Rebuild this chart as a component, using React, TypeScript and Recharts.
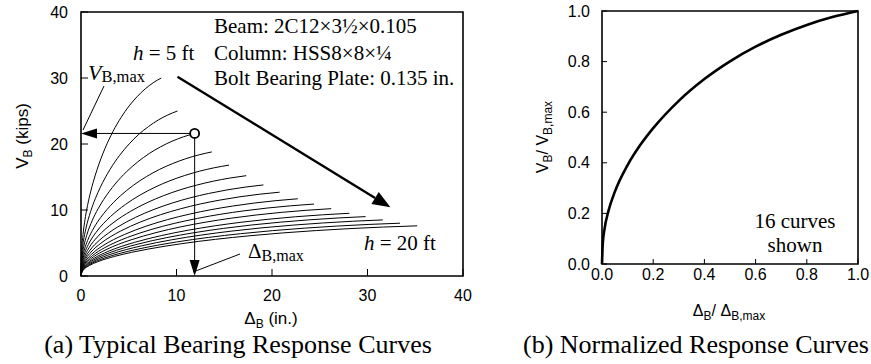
import React from 'react';
import {
  LineChart,
  Line,
  XAxis,
  YAxis,
  ReferenceArea,
  ReferenceLine,
  ReferenceDot,
} from 'recharts';

// bearing response curves, one per column height h = 5 ft ... 20 ft
const heightsFt = [5, 6, 7, 8, 9, 10, 11, 12, 13, 14, 15, 16, 17, 18, 19, 20];
const peakDelta = [8.4, 10.1, 11.9, 13.7, 15.5, 17.3, 19.1, 20.8, 22.7, 24.4, 26.2, 28.1, 29.8, 31.6, 33.4, 35.2];
const peakV = [30.0, 25.0, 21.6, 18.8, 16.8, 15.2, 13.8, 12.7, 11.7, 10.9, 10.2, 9.5, 9.0, 8.5, 8.0, 7.6];

// normalized response (all 16 curves collapse onto this one)
const normDelta = [0, 0.003, 0.01, 0.025, 0.05, 0.1, 0.15, 0.2, 0.3, 0.4, 0.5, 0.6, 0.7, 0.8, 0.9, 1.0];
const normV = [0, 0.08, 0.139, 0.209, 0.285, 0.391, 0.471, 0.537, 0.645, 0.731, 0.801, 0.859, 0.906, 0.945, 0.976, 1.0];

const ticksA = [0, 10, 20, 30, 40];
const ticksB = [0, 0.2, 0.4, 0.6, 0.8, 1.0];

// trend arrow (h = 5 ft -> h = 20 ft)
const trendFrom = { x: 10.1, y: 30.2 };
const trendTo = { x: 32.4, y: 10.4 };

const serif = '"Liberation Serif", "Times New Roman", serif';
const sans = '"Liberation Sans", Arial, sans-serif';

const normalized = normDelta.map((t, i) => ({ x: t, y: normV[i] }));
const curves = heightsFt.map((h, k) => ({
  h,
  points: normDelta.map((t, i) => ({ x: t * peakDelta[k], y: normV[i] * peakV[k] })),
}));

function Arrow(props: any) {
  const { x1, y1, x2, y2, len = 16, half = 5, width = 1 } = props;
  const a = Math.atan2(y2 - y1, x2 - x1);
  const bx = x2 - len * Math.cos(a);
  const by = y2 - len * Math.sin(a);
  const px = -Math.sin(a) * half;
  const py = Math.cos(a) * half;
  return (
    <g>
      <line x1={x1} y1={y1} x2={bx} y2={by} stroke="#000" strokeWidth={width} />
      <polygon points={`${x2},${y2} ${bx + px},${by + py} ${bx - px},${by - py}`} fill="#000" />
    </g>
  );
}

// ticks drawn inward from the frame, labels outside
function XTick(props: any) {
  const { x, y, payload, gap, len, fmt } = props;
  const axisY = y - gap;
  return (
    <g>
      <line x1={x} y1={axisY} x2={x} y2={axisY - len} stroke="#000" strokeWidth={1} />
      <text x={x} y={y} dy="0.71em" textAnchor="middle" fontSize={16} fontFamily={sans} fill="#000">
        {fmt(payload.value)}
      </text>
    </g>
  );
}

function YTick(props: any) {
  const { x, y, payload, gap, len, fmt } = props;
  const axisX = x + gap;
  return (
    <g>
      <line x1={axisX} y1={y} x2={axisX + len} y2={y} stroke="#000" strokeWidth={1} />
      <text x={x} y={y} dy="0.355em" textAnchor="end" fontSize={16} fontFamily={sans} fill="#000">
        {fmt(payload.value)}
      </text>
    </g>
  );
}

const intFmt = (v: number) => String(v);
const decFmt = (v: number) => v.toFixed(1);

function PanelA() {
  const pk = { x: peakDelta[2], y: peakV[2] };
  return (
    <LineChart width={480} height={364} margin={{ top: 12, right: 17, left: 21, bottom: 58 }}>
      <XAxis
        type="number"
        dataKey="x"
        domain={[0, 40]}
        ticks={ticksA}
        axisLine={false}
        tickLine={false}
        tickSize={0}
        tickMargin={14}
        tick={<XTick gap={14} len={7} fmt={intFmt} />}
        height={30}
      />
      <YAxis
        type="number"
        dataKey="y"
        domain={[0, 40]}
        ticks={ticksA}
        axisLine={false}
        tickLine={false}
        tickSize={0}
        tickMargin={13}
        tick={<YTick gap={13} len={7} fmt={intFmt} />}
        width={60}
      />
      <ReferenceArea x1={0} x2={40} y1={0} y2={40} fill="none" stroke="#000" strokeWidth={1.6} />
      {curves.map((c) => (
        <Line
          key={c.h}
          data={c.points}
          dataKey="y"
          type="monotone"
          stroke="#000"
          strokeWidth={1}
          dot={false}
          isAnimationActive={false}
        />
      ))}
      <ReferenceLine
        segment={[pk, { x: 0, y: pk.y }]}
        shape={(p: any) => <Arrow {...p} len={16} half={5} width={1} />}
      />
      <ReferenceLine
        segment={[pk, { x: pk.x, y: 0 }]}
        shape={(p: any) => <Arrow {...p} len={16} half={5} width={1} />}
      />
      <ReferenceLine
        segment={[trendFrom, trendTo]}
        shape={(p: any) => <Arrow {...p} len={18} half={7} width={2.4} />}
      />
      <ReferenceDot x={pk.x} y={pk.y} r={4.5} fill="#fff" stroke="#000" strokeWidth={1.8} />
    </LineChart>
  );
}

function PanelB() {
  return (
    <LineChart width={381} height={364} margin={{ top: 11, right: 13, left: 52, bottom: 70 }}>
      <XAxis
        type="number"
        dataKey="x"
        domain={[0, 1]}
        ticks={ticksB}
        axisLine={false}
        tickLine={false}
        tickSize={0}
        tickMargin={5}
        tick={<XTick gap={5} len={5} fmt={decFmt} />}
        height={30}
      />
      <YAxis
        type="number"
        dataKey="y"
        domain={[0, 1]}
        ticks={ticksB}
        axisLine={false}
        tickLine={false}
        tickSize={0}
        tickMargin={12}
        tick={<YTick gap={12} len={5} fmt={decFmt} />}
        width={60}
      />
      <ReferenceArea x1={0} x2={1} y1={0} y2={1} fill="none" stroke="#000" strokeWidth={1.6} />
      <Line
        data={normalized}
        dataKey="y"
        type="monotone"
        stroke="#000"
        strokeWidth={2.6}
        dot={false}
        isAnimationActive={false}
      />
    </LineChart>
  );
}

export default function App() {
  return (
    <div style={{ position: 'relative', width: 871, height: 364, background: '#fff', overflow: 'hidden' }}>
      <style>{'body{margin:0}'}</style>
      <div style={{ position: 'absolute', left: 0, top: 0 }}>
        <PanelA />
      </div>
      <div style={{ position: 'absolute', left: 490, top: 0 }}>
        <PanelB />
      </div>
      <svg width={871} height={364} style={{ position: 'absolute', left: 0, top: 0, pointerEvents: 'none' }}>
        <g fontFamily={serif} fontSize={21} fill="#000">
          <text x={214} y={33}>Beam: 2C12×3½×0.105</text>
          <text x={214} y={60}>Column: HSS8×8×¼</text>
          <text x={214} y={85}>Bolt Bearing Plate: 0.135 in.</text>
          <text x={133} y={60}>
            <tspan fontStyle="italic">h</tspan> = 5 ft
          </text>
          <text x={364} y={250}>
            <tspan fontStyle="italic">h</tspan> = 20 ft
          </text>
          <text x={88} y={80} fontSize={22}>
            <tspan fontStyle="italic">V</tspan>
            <tspan fontSize={16.5} dy={2}>B,max</tspan>
          </text>
          <text x={248} y={258}>
            Δ<tspan fontSize={16} dy={3}>B,max</tspan>
          </text>
          <text x={795} y={228} textAnchor="middle">16 curves</text>
          <text x={795} y={252} textAnchor="middle">shown</text>
          <text x={238} y={353} fontSize={26} textAnchor="middle">(a) Typical Bearing Response Curves</text>
          <text x={523} y={353} fontSize={26}>(b) Normalized Response Curves</text>
        </g>
        <line x1={104} y1={86} x2={83} y2={130} stroke="#000" strokeWidth={1} />
        <line x1={240} y1={254} x2={193} y2={272} stroke="#000" strokeWidth={1} />
        <g fontFamily={sans} fontSize={17} fill="#000">
          <text x={28} y={136} textAnchor="middle" transform="rotate(-90 28 136)">
            V<tspan fontSize={12} dy={4}>B</tspan>
            <tspan dy={-4}> (kips)</tspan>
          </text>
          <text x={271} y={324} textAnchor="middle">
            Δ<tspan fontSize={12} dy={4}>B</tspan>
            <tspan dy={-4}> (in.)</tspan>
          </text>
          <text x={548} y={137} textAnchor="middle" fontSize={16} transform="rotate(-90 548 137)">
            V<tspan fontSize={12} dy={4}>B</tspan>
            <tspan dy={-4}>/ V</tspan>
            <tspan fontSize={12} dy={4}>B,max</tspan>
          </text>
          <text x={729} y={316} textAnchor="middle" fontSize={16}>
            Δ<tspan fontSize={12} dy={4}>B</tspan>
            <tspan dy={-4}>/ Δ</tspan>
            <tspan fontSize={12} dy={4}>B,max</tspan>
          </text>
        </g>
      </svg>
    </div>
  );
}
